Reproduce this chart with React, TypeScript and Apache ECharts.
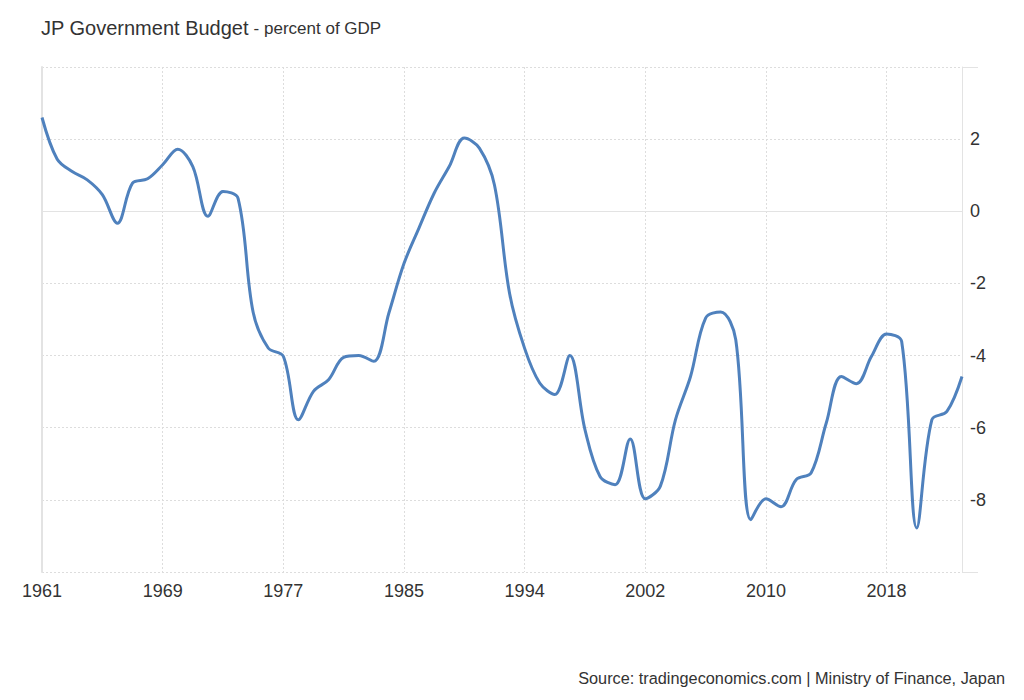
import React, { useEffect, useRef } from "react";
import * as echarts from "echarts";

const years: string[] = [
  "1961", "1962", "1963", "1964", "1965", "1966", "1967", "1968", "1969", "1970",
  "1971", "1972", "1973", "1974", "1975", "1976", "1977", "1978", "1979", "1980",
  "1981", "1982", "1983", "1984", "1985", "1987", "1988", "1989", "1990", "1991",
  "1992", "1993", "1994", "1995", "1996", "1997", "1998", "1999", "2000", "2001",
  "2002", "2003", "2004", "2005", "2006", "2007", "2008", "2009", "2010", "2011",
  "2012", "2013", "2014", "2015", "2016", "2017", "2018", "2019", "2020", "2021",
  "2022", "2023",
];

const budget: number[] = [
  2.6, 1.45, 1.1, 0.87, 0.46, -0.33, 0.78, 0.9, 1.29, 1.72,
  1.24, -0.14, 0.55, 0.36, -2.8, -3.79, -4.02, -5.78, -4.99, -4.67,
  -4.05, -4.0, -4.16, -2.82, -1.45, -0.46, 0.5, 1.24, 2.03, 1.75,
  0.73, -2.27, -3.8, -4.76, -5.08, -4.0, -6.05, -7.35, -7.58, -6.31,
  -7.97, -7.62, -5.78, -4.58, -2.96, -2.79, -3.56, -8.55, -7.97, -8.19,
  -7.44, -7.25, -5.87, -4.58, -4.78, -4.02, -3.4, -3.61, -8.78, -5.78,
  -5.55, -4.58,
];

const yMin = -10;
const yMax = 4;
const yStep = 2;

export default function App() {
  const ref = useRef<HTMLDivElement>(null);
  useEffect(() => {
    if (!ref.current) return;
    const chart = echarts.init(ref.current, undefined, { renderer: "svg" });
    const font = "'Liberation Sans', Arial, sans-serif";
    chart.setOption({
      animation: false,
      backgroundColor: "#ffffff",
      textStyle: { fontFamily: font },
      title: {
        left: 36,
        top: 13,
        text: "{a|JP Government Budget}{b| - percent of GDP}",
        textStyle: {
          fontWeight: "normal",
          rich: {
            a: { fontSize: 20, color: "#333333", fontFamily: font, fontWeight: "normal" },
            b: { fontSize: 17, color: "#333333", fontFamily: font, fontWeight: "normal" },
          },
        },
      },
      graphic: [
        {
          type: "text",
          right: 19,
          top: 670,
          style: {
            text: "Source: tradingeconomics.com | Ministry of Finance, Japan",
            fontSize: 16.3,
            fill: "#333333",
            fontFamily: font,
          },
        },
        {
          type: "line",
          shape: { x1: 962, y1: 572.5, x2: 978, y2: 572.5 },
          style: { stroke: "#e3e3e3", lineWidth: 1 },
        },
        {
          type: "line",
          shape: { x1: 962, y1: 67.5, x2: 978, y2: 67.5 },
          style: { stroke: "#e3e3e3", lineWidth: 1 },
        },
      ],
      grid: { left: 42, right: 62, top: 67, bottom: 128, containLabel: false },
      xAxis: {
        type: "category",
        data: years,
        boundaryGap: false,
        axisLine: { show: true, lineStyle: { color: "#e3e3e3", width: 1 } },
        axisTick: { show: false },
        axisLabel: {
          interval: 7,
          color: "#333333",
          fontSize: 18,
          margin: 10,
          fontFamily: font,
        },
        splitLine: {
          show: true,
          interval: 7,
          lineStyle: { color: "#dddddd", type: [2, 2], width: 1 },
        },
      },
      yAxis: [
        {
          type: "value",
          position: "right",
          min: yMin,
          max: yMax,
          interval: yStep,
          axisLine: { show: true, lineStyle: { color: "#e3e3e3", width: 1 } },
          axisTick: { show: false },
          axisLabel: {
            showMinLabel: false,
            showMaxLabel: false,
            color: "#333333",
            fontSize: 18,
            margin: 8,
            fontFamily: font,
          },
          splitLine: {
            show: true,
            lineStyle: { color: "#dddddd", type: [2, 2], width: 1 },
          },
        },
        {
          type: "value",
          position: "left",
          min: yMin,
          max: yMax,
          interval: yStep,
          axisLine: { show: true, lineStyle: { color: "#e3e3e3", width: 2 } },
          axisTick: { show: false },
          axisLabel: { show: false },
          splitLine: { show: false },
        },
      ],
      series: [
        {
          type: "line",
          data: budget,
          yAxisIndex: 0,
          smooth: 0.35,
          showSymbol: false,
          lineStyle: { color: "#4f81bd", width: 3 },
          itemStyle: { color: "#4f81bd" },
        },
      ],
    });
    return () => chart.dispose();
  }, []);
  return (
    <div
      ref={ref}
      style={{ position: "fixed", left: 0, top: 0, width: 1024, height: 700 }}
    />
  );
}
